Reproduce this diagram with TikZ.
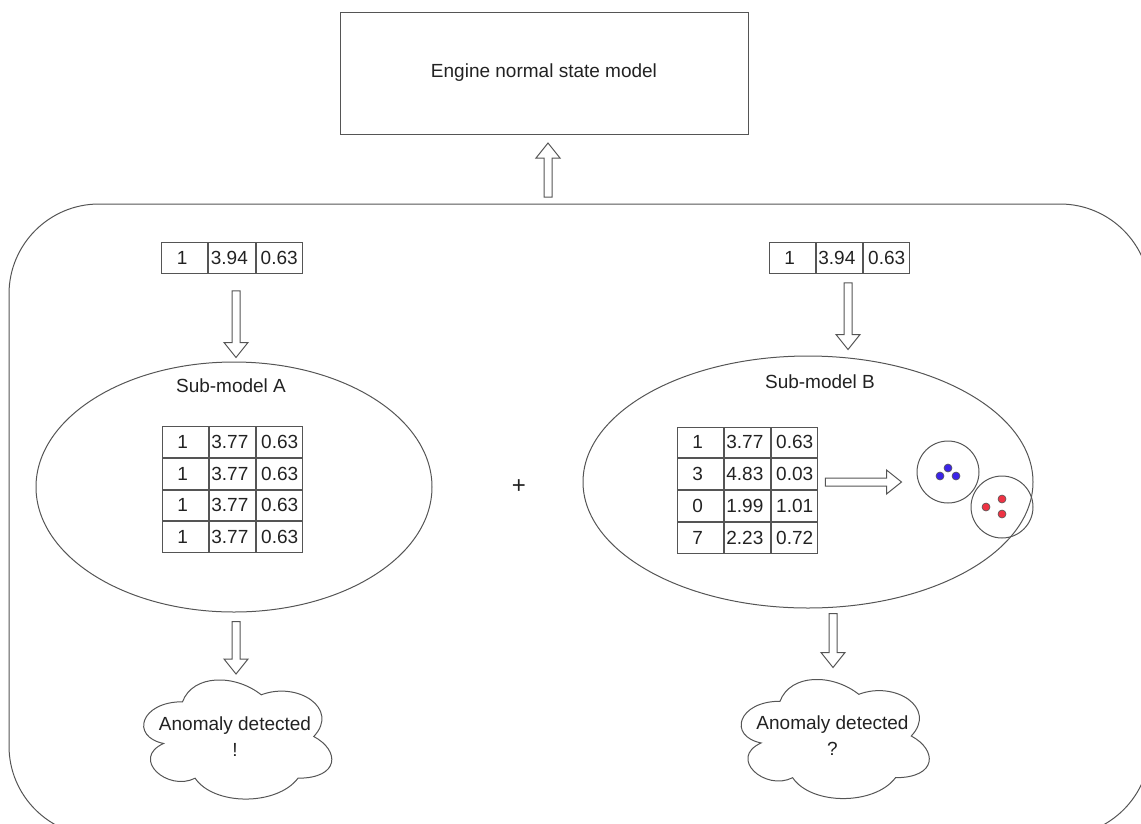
\documentclass[tikz,border=0pt]{standalone}
\usepackage{fontspec}
\setmainfont{Liberation Sans}
\usetikzlibrary{shapes.geometric,calc,matrix}
\definecolor{ink}{HTML}{222222}
\definecolor{edge}{HTML}{555555}
\definecolor{dotblue}{HTML}{3B24E8}
\definecolor{dotred}{HTML}{EE3344}
\tikzset{
  line/.style={draw=edge, line width=1pt},
  txt/.style={text=ink, font=\fontsize{19}{26}\selectfont, align=center, inner sep=0pt, outer sep=0pt},
  cell/.style={line, txt, minimum width=46.2pt, minimum height=30.75pt},
  grid/.style={matrix of nodes, nodes={cell}, column sep=0pt, row sep=0pt, inner sep=0pt, outer sep=0pt},
  cloudbox/.style={txt, minimum width=210pt, minimum height=139pt},
  dot/.style={circle, draw=edge, line width=0.6pt, minimum size=8pt, inner sep=0pt},
  ring/.style={circle, line, minimum size=62pt, inner sep=0pt},
  blockarrow/.style={line, to path={
      ($(\tikztostart)!4pt!90:(\tikztotarget)$)
      -- ($($(\tikztotarget)!15pt!(\tikztostart)$)!4pt!-90:(\tikztostart)$)
      -- ($($(\tikztotarget)!15pt!(\tikztostart)$)!12pt!-90:(\tikztostart)$)
      -- (\tikztotarget)
      -- ($($(\tikztotarget)!15pt!(\tikztostart)$)!12pt!90:(\tikztostart)$)
      -- ($($(\tikztotarget)!15pt!(\tikztostart)$)!4pt!90:(\tikztostart)$)
      -- ($(\tikztostart)!4pt!-90:(\tikztotarget)$)
      -- cycle}},
}
% cloud outline drawn inside the box of the named node
\newcommand\cloudoutline[1]{%
  \begin{scope}[shift={(#1.north west)}, x=210pt, y=-139pt]
    \draw[line] (0.25,0.25) .. controls (0.05,0.25) and (0,0.5) .. (0.16,0.55)
      .. controls (0,0.66) and (0.18,0.9) .. (0.31,0.8)
      .. controls (0.4,1) and (0.7,1) .. (0.8,0.8)
      .. controls (1,0.8) and (1,0.6) .. (0.875,0.5)
      .. controls (1,0.3) and (0.8,0.1) .. (0.625,0.2)
      .. controls (0.5,0.05) and (0.3,0.05) .. (0.25,0.25) -- cycle;
  \end{scope}}
\begin{document}
\begin{tikzpicture}[x=1pt, y=-1pt]
\useasboundingbox (0,0) rectangle (1141,823);
\clip (0,0) rectangle (1141,823);

% top model box and the enclosing frame
\node[line, txt, minimum width=408pt, minimum height=122pt] (engine) at (544,73) {Engine normal state model};
\node[line, rounded corners=90pt, minimum width=1141pt, minimum height=632pt, outer sep=0pt] (outer) at (579.5,520) {};

% input vectors
\matrix[grid] (inA) at (232,258) {1 & 3.94 & 0.63\\};
\matrix[grid] (inB) at (839.5,258) {1 & 3.94 & 0.63\\};

% sub-model A
\node[ellipse, line, minimum width=396pt, minimum height=250pt, inner sep=0pt] (subA) at (234,487) {};
\node[txt] (labA) at (231,386) {Sub-model A};
\matrix[grid] (tabA) at (232.5,489.5) {
  1 & 3.77 & 0.63\\
  1 & 3.77 & 0.63\\
  1 & 3.77 & 0.63\\
  1 & 3.77 & 0.63\\};

% sub-model B
\node[ellipse, line, minimum width=450pt, minimum height=252pt, inner sep=0pt] (subB) at (808,482) {};
\node[txt] (labB) at (820,382) {Sub-model B};
\matrix[grid] (tabB) at (747.5,490) {
  1 & 3.77 & 0.63\\
  3 & 4.83 & 0.03\\
  0 & 1.99 & 1.01\\
  7 & 2.23 & 0.72\\};

% clusters
\node[ring] (c1) at (948,472) {};
\node[ring] (c2) at (1002,507) {};
\node[dot, fill=dotblue] (b1) at (940,476) {};
\node[dot, fill=dotblue] (b2) at (948,468) {};
\node[dot, fill=dotblue] (b3) at (956,476) {};
\node[dot, fill=dotred] (r1) at (986,507) {};
\node[dot, fill=dotred] (r2) at (1002,499) {};
\node[dot, fill=dotred] (r3) at (1002,514) {};

\node[txt, font=\fontsize{24}{26}\selectfont] (plus) at (519,487) {+};

% outcome clouds
\node[cloudbox] (cloudA) at (235,736.5) {Anomaly detected\\!};
\node[cloudbox] (cloudB) at (832.5,736) {Anomaly detected\\?};
\cloudoutline{cloudA}
\cloudoutline{cloudB}

% arrow end points
\coordinate (a1s) at ($(engine.south |- outer.north)+(4,-7)$);
\coordinate (a1t) at ($(engine.south)+(4,9)$);
\coordinate (a2s) at ($(inA.south)+(4,17)$);
\coordinate (a2t) at ($(a2s |- subA.north)+(0,-4)$);
\coordinate (a3s) at ($(inB.south)+(8.5,9)$);
\coordinate (a3t) at ($(a3s |- subB.north)+(0,-6)$);
\coordinate (a4s) at ($(tabB.east)+(7,-8)$);
\coordinate (a4t) at ($(a4s -| c1.west)+(-15,0)$);
\coordinate (a5s) at ($(subA.south)+(2,9)$);
\coordinate (a5t) at ($(a5s |- cloudA.north)+(0,7)$);
\coordinate (a6s) at ($(subB.south)+(25,5)$);
\coordinate (a6t) at ($(a6s |- cloudB.north)+(0,1)$);

\draw[blockarrow] (a1s) to (a1t);
\draw[blockarrow] (a2s) to (a2t);
\draw[blockarrow] (a3s) to (a3t);
\draw[blockarrow] (a4s) to (a4t);
\draw[blockarrow] (a5s) to (a5t);
\draw[blockarrow] (a6s) to (a6t);
\end{tikzpicture}
\end{document}
